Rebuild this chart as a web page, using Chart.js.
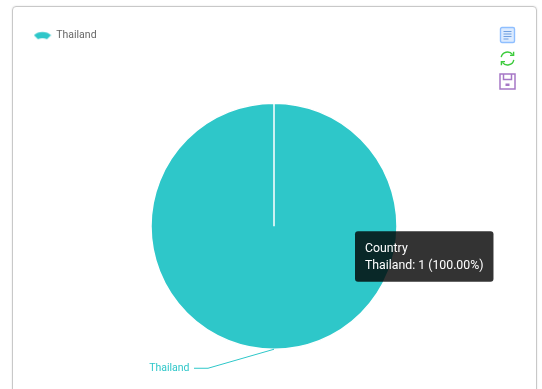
<!DOCTYPE html>
<html>
<head>
<meta charset="utf-8">
<script src="https://cdn.jsdelivr.net/npm/chart.js@4"></script>
<style>
html, body { margin: 0; padding: 0; background: #fff; overflow: hidden; }
#wrap { position: relative; width: 542px; height: 389px; overflow: hidden; }
#card {
    position: absolute; left: 12px; top: 6px; width: 523px; height: 400px;
    border: 1px solid #c8c8c8; border-radius: 4px; box-sizing: content-box;
    box-shadow: 0 0 2px rgba(0,0,0,0.12);
}
#chart1 { position: absolute; left: 12px; top: 6px; }
.tool { position: absolute; display: block; }
</style>
</head>
<body>
<div id="wrap">
    <div id="card"></div>
    <canvas id="chart1" width="524" height="396"></canvas>
    <svg class="tool" style="left:499px;top:26px" width="17" height="18" viewBox="0 0 17 18">
        <rect x="1.5" y="1.5" width="14" height="15" rx="1.5" fill="#dcebff" stroke="#8fbfff" stroke-width="1.4"/>
        <path d="M4.5 5.5h8M4.5 8h8M4.5 10.5h8M4.5 13h5" stroke="#6f9fe0" stroke-width="1.2" fill="none"/>
    </svg>
    <svg class="tool" style="left:499px;top:50px" width="17" height="17" viewBox="0 0 17 17">
        <path d="M2.2 7.2A6.4 6.4 0 0 1 13.6 4.6" stroke="#3ccb3c" stroke-width="1.4" fill="none"/>
        <path d="M14.8 9.8A6.4 6.4 0 0 1 3.4 12.4" stroke="#3ccb3c" stroke-width="1.4" fill="none"/>
        <path d="M14.6 1.8v3.6h-3.6M2.4 15.2v-3.6h3.6" stroke="#3ccb3c" stroke-width="1.4" fill="none"/>
    </svg>
    <svg class="tool" style="left:499px;top:73px" width="17" height="17" viewBox="0 0 17 17">
        <path d="M1 1h15v15H1z" fill="#fff" stroke="#a678c6" stroke-width="1.5"/>
        <path d="M4.5 1v5.5h8V1" fill="none" stroke="#a678c6" stroke-width="1.5"/>
        <rect x="6.5" y="10.5" width="4" height="2.5" fill="#a678c6"/>
    </svg>
</div>
<script>
const categories = ['Thailand'];
const seriesValues = [1];
const seriesName = 'Country';
const sliceColor = '#2ec7c9';

// wing shaped legend marker
const marker = document.createElement('canvas');
marker.width = 18;
marker.height = 10;
const mc = marker.getContext('2d');
mc.fillStyle = sliceColor;
mc.beginPath();
mc.moveTo(0.5, 5);
mc.bezierCurveTo(4, 0.5, 14, 0.5, 17.5, 5);
mc.lineTo(13.5, 9);
mc.quadraticCurveTo(11, 7.8, 9, 8);
mc.quadraticCurveTo(7, 7.8, 4.5, 9);
mc.closePath();
mc.fill();

// label with a bent line for each slice
const sliceLabels = {
    id: 'sliceLabels',
    afterDatasetsDraw(chart) {
        const ctx = chart.ctx;
        chart.getDatasetMeta(0).data.forEach((arc, i) => {
            const mid = (arc.startAngle + arc.endAngle) / 2;
            const sx = arc.x + Math.cos(mid) * arc.outerRadius;
            const sy = arc.y + Math.sin(mid) * arc.outerRadius;
            ctx.save();
            ctx.strokeStyle = sliceColor;
            ctx.lineWidth = 1;
            ctx.beginPath();
            ctx.moveTo(sx, sy);
            ctx.lineTo(sx - 66, sy + 19);
            ctx.lineTo(sx - 80, sy + 19);
            ctx.stroke();
            ctx.fillStyle = sliceColor;
            ctx.font = '10.5px Roboto';
            ctx.textAlign = 'right';
            ctx.textBaseline = 'middle';
            ctx.fillText(categories[i], sx - 84.5, sy + 19);
            ctx.restore();
        });
    }
};

Chart.Tooltip.positioners.fixedBox = function() {
    return { x: 343, y: 250.5 };
};

const chart = new Chart(document.getElementById('chart1').getContext('2d'), {
    type: 'pie',
    data: {
        labels: categories,
        datasets: [{
            label: seriesName,
            data: seriesValues,
            backgroundColor: [sliceColor],
            borderColor: '#ffffff',
            borderWidth: 1.5
        }]
    },
    options: {
        responsive: false,
        animation: false,
        radius: 123,
        layout: { padding: { top: 2, bottom: 0 } },
        plugins: {
            legend: {
                position: 'top',
                align: 'start',
                onClick: null,
                labels: {
                    usePointStyle: true,
                    pointStyle: marker,
                    pointStyleWidth: 17,
                    padding: 22,
                    color: '#666',
                    font: { family: 'Roboto', size: 10.5 }
                }
            },
            tooltip: {
                position: 'fixedBox',
                xAlign: 'left',
                yAlign: 'center',
                caretSize: 0,
                caretPadding: 0,
                cornerRadius: 3,
                padding: { left: 10, right: 10, top: 10, bottom: 8 },
                displayColors: false,
                backgroundColor: 'rgba(0,0,0,0.8)',
                titleFont: { family: 'Roboto', size: 12.3, weight: 'normal' },
                bodyFont: { family: 'Roboto', size: 12.3 },
                titleMarginBottom: 3,
                callbacks: {
                    title: () => seriesName,
                    label(item) {
                        const total = seriesValues.reduce((a, b) => a + b, 0);
                        return item.label + ': ' + item.raw + ' (' + (item.raw / total * 100).toFixed(2) + '%)';
                    }
                }
            }
        }
    },
    plugins: [sliceLabels]
});

chart.tooltip.setActiveElements([{ datasetIndex: 0, index: 0 }], { x: 343, y: 250 });
chart.update();
</script>
</body>
</html>
